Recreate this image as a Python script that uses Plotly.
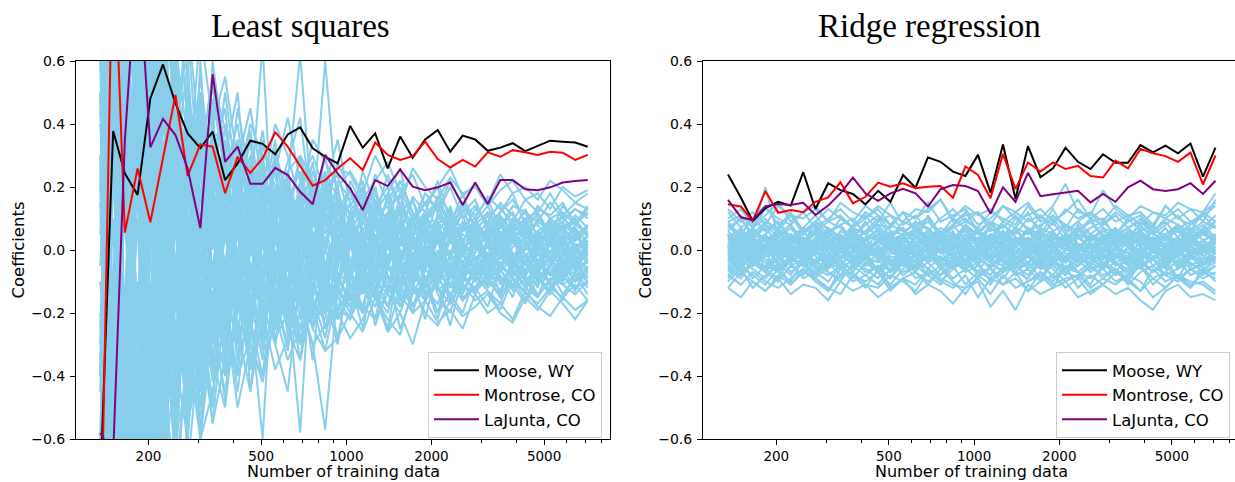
import plotly.graph_objects as go

# ---------------- data ----------------
n_train = [135, 150, 165, 183, 203, 225, 249, 275, 305, 337,
           373, 413, 458, 506, 561, 621, 687, 761, 842, 932,
           1032, 1143, 1265, 1401, 1550, 1716, 1900, 2104, 2329, 2578,
           2854, 3160, 3499, 3873, 4288, 4747, 5254, 5817, 6440, 7129]

x_tick_vals = [200, 500, 1000, 2000, 5000]
x_tick_text = ["200", "500", "1000", "2000", "5000"]
x_minor_vals = [300, 400, 600, 700, 800, 900, 3000, 4000, 6000, 7000, 8000]
y_tick_vals = [-0.6, -0.4, -0.2, 0.0, 0.2, 0.4, 0.6]

station_names = ["Moose, WY", "Montrose, CO", "LaJunta, CO"]
station_colors = ["black", "red", "purple"]

ls_moose = [-0.75, 0.378, 0.243, 0.175, 0.481, 0.589, 0.466, 0.370, 0.323, 0.376,
            0.222, 0.275, 0.347, 0.337, 0.304, 0.367, 0.389, 0.323, 0.296, 0.275,
            0.394, 0.325, 0.370, 0.259, 0.360, 0.293, 0.351, 0.381, 0.312, 0.363,
            0.351, 0.315, 0.325, 0.339, 0.314, 0.331, 0.347, 0.344, 0.341, 0.328]
ls_montrose = [-1.08, 1.06, 0.055, 0.259, 0.088, 0.29, 0.492, 0.235, 0.335, 0.328,
               0.18, 0.296, 0.245, 0.291, 0.374, 0.328, 0.265, 0.204, 0.222, 0.259,
               0.291, 0.254, 0.341, 0.302, 0.286, 0.298, 0.344, 0.289, 0.262, 0.286,
               0.265, 0.310, 0.296, 0.317, 0.310, 0.302, 0.312, 0.309, 0.286, 0.302]
ls_lajunta = [-0.58, -0.65, 0.35, 0.95, 0.326, 0.416, 0.365, 0.259, 0.069, 0.558,
              0.28, 0.328, 0.21, 0.21, 0.261, 0.238, 0.185, 0.145, 0.302, 0.243,
              0.196, 0.127, 0.222, 0.203, 0.256, 0.201, 0.190, 0.199, 0.214, 0.143,
              0.214, 0.146, 0.222, 0.222, 0.193, 0.190, 0.199, 0.214, 0.219, 0.222]

ridge_moose = [0.24, 0.166, 0.092, 0.133, 0.153, 0.141, 0.247, 0.13, 0.212, 0.19,
               0.178, 0.145, 0.188, 0.153, 0.238, 0.198, 0.294, 0.28, 0.249, 0.235,
               0.302, 0.182, 0.335, 0.162, 0.330, 0.231, 0.259, 0.325, 0.280, 0.257,
               0.304, 0.277, 0.277, 0.333, 0.310, 0.331, 0.307, 0.338, 0.233, 0.325]
ridge_montrose = [0.145, 0.138, 0.092, 0.187, 0.118, 0.127, 0.12, 0.153, 0.167, 0.215,
                  0.148, 0.169, 0.214, 0.201, 0.212, 0.196, 0.201, 0.203, 0.166, 0.265,
                  0.238, 0.164, 0.305, 0.193, 0.278, 0.249, 0.278, 0.257, 0.267, 0.235,
                  0.230, 0.284, 0.259, 0.321, 0.307, 0.298, 0.280, 0.309, 0.208, 0.300]
ridge_lajunta = [0.159, 0.104, 0.095, 0.138, 0.146, 0.143, 0.150, 0.111, 0.141, 0.18,
                 0.23, 0.18, 0.156, 0.18, 0.194, 0.18, 0.138, 0.193, 0.206, 0.203,
                 0.187, 0.116, 0.199, 0.153, 0.245, 0.171, 0.177, 0.182, 0.188, 0.151,
                 0.178, 0.153, 0.199, 0.220, 0.193, 0.187, 0.193, 0.212, 0.178, 0.220]

# other stations' coefficients (hundredths), least squares
ls_other_pct = [
    [-120, 85, -40, 62, -35, 48, -20, 30, -38, 15, 22, -18, 27, -10, 14, -20, 8, -15, 18, -6,
     12, -9, 5, -14, 10, -3, 8, -11, 6, -2, 9, -7, 3, -5, 10, -4, 2, -8, 5, 0],
    [140, -60, 95, -30, 70, 10, 45, -15, 38, 20, -5, 30, 12, 25, -8, 18, 2, 22, 10, 15,
     0, 12, 20, 3, 14, 8, -2, 11, 7, 13, 4, 9, 2, 10, 6, 8, 3, 11, 5, 7],
    [-90, 130, -75, 20, -60, 35, -45, 12, -30, -50, 10, -28, -15, -35, 5, -22, -12, 3, -25, -8,
     -18, 2, -14, -20, -3, -11, -16, 0, -12, -7, -14, -2, -9, -11, -4, -8, -13, -3, -6, -10],
    [60, -110, 150, 40, 90, -20, 65, 35, 50, 5, 40, 15, 35, -5, 28, 12, 30, 2, 22, 18,
     8, 25, 14, 20, 5, 17, 12, 22, 9, 15, 11, 16, 7, 14, 12, 9, 15, 10, 13, 11],
    [-150, 40, -130, -70, 15, -80, -5, -55, -30, 10, -40, -20, -5, -32, -25, -12, -30, -18, -8, -22,
     -15, -6, -24, -11, -18, -2, -16, -9, -14, -20, -8, -13, -17, -6, -12, -15, -9, -11, -14, -10],
    [100, 55, -95, 80, -50, 60, 10, -40, 25, 45, -20, 18, 35, -12, 20, 5, -10, 16, 25, -4,
     10, 0, 15, 6, -5, 12, 2, 9, -3, 7, 5, -2, 8, 3, 0, 6, 9, 1, 4, 2],
    [30, -140, 70, -90, 45, -25, -60, 20, -15, -40, 25, -35, 0, 12, -30, -10, 15, -22, -5, 8,
     -12, -20, 4, -8, -15, 6, -10, -2, -16, 1, -6, -11, 2, -8, -4, -12, 0, -7, -3, -9],
    [-70, 150, 20, 110, 55, -10, 85, 40, -5, 60, 30, 50, 5, 35, 15, 28, 42, 10, 20, 35,
     14, 22, 2, 18, 26, 8, 15, 20, 4, 12, 16, 6, 12, 18, 8, 11, 5, 14, 9, 13],
    [110, -80, -150, 30, -95, -40, 20, -70, -25, -55, -15, -40, -28, 5, -30, -45, -8, -25, -15, -30,
     -5, -20, -12, -25, -3, -18, -10, -22, -6, -15, -12, -4, -14, -9, -16, -6, -11, -8, -13, -5],
    [-40, 90, -120, 110, -20, 75, -55, 15, 48, -30, 35, -12, 8, 28, -20, 15, -8, 20, -14, 10,
     -6, 16, -10, 4, 12, -8, 6, -4, 14, 0, -5, 8, -3, 4, -7, 6, 2, -4, 7, -2],
    [150, 20, 60, -100, 85, -55, 40, -45, 10, 28, -35, 15, -25, 10, -18, 22, -12, 4, -20, 12,
     3, -14, 10, -6, 8, -12, 2, -9, 5, -4, -10, 3, -6, 7, -2, -8, 4, -5, 1, -3],
    [20, 150, -50, 95, 130, 45, 30, 70, 15, 48, 25, 40, 10, 33, 20, 8, 30, 22, 12, 28,
     18, 10, 24, 15, 20, 9, 18, 13, 22, 14, 10, 17, 13, 9, 16, 12, 18, 11, 15, 13],
    [-60, -150, 80, -120, -20, -75, -35, -60, -10, -42, -30, -5, -38, -22, -15, -30, -20, -8, -25, -18,
     -22, -10, -15, -26, -12, -18, -8, -20, -14, -11, -16, -13, -19, -9, -14, -17, -12, -15, -11, -16],
    [-100, 60, 120, -45, 30, 55, -30, 15, 25, -10, 5, -20, 15, 65, -10, 12, -5, 20, -8, 3,
     6, -10, 4, -3, 9, -7, 2, 5, -6, 1, 3, -4, 6, -2, 0, 4, -5, 2, -1, 3],
    [50, -130, 40, 75, -70, 20, -40, 35, -10, -25, 15, -5, -20, -60, 8, -15, -58, 5, -12, 10,
     -4, 6, -9, 2, -12, 4, -6, 8, -3, -8, 2, -6, 4, -1, -9, 3, -4, 0, -7, 1],
    [-30, 110, -140, 50, 60, -35, 25, -10, 45, 8, -12, 25, 6, 18, -5, 22, 62, 10, 60, 12,
     20, 4, 12, 18, 2, 10, 15, 6, 11, 3, 9, 14, 5, 8, 12, 4, 10, 7, 3, 8],
    [80, -20, 100, -130, 10, -65, 40, -20, -45, -15, -30, 10, -45, -8, -25, 5, -18, -30, -57, -12,
     -20, -8, -15, -3, -18, -10, -22, -5, -14, -9, -12, -18, -6, -13, -9, -15, -4, -11, -8, -14],
    [-140, -30, 150, 15, 100, -15, 50, 60, -20, 30, 45, 8, 20, -15, 30, 18, 5, 25, 12, 0,
     22, 14, 3, 12, 18, 0, 10, 15, 2, 9, 6, 11, 0, 8, 5, 12, 2, 7, 10, 4],
    [5, 70, -60, -110, 40, -90, 15, -55, 20, -35, -50, -15, 12, -28, 0, -22, -8, -35, 2, -20,
     -10, -25, -5, 6, -16, -12, 0, -14, -20, -6, -2, -10, -14, -4, -7, 0, -12, -9, -3, -11],
    [150, -40, 85, 120, 25, 95, 60, 20, 70, 40, 55, 28, 45, 20, 40, 30, 15, 35, 28, 20,
     25, 18, 30, 22, 14, 26, 20, 16, 23, 18, 20, 14, 19, 22, 16, 18, 13, 20, 17, 19],
    [-20, -90, -60, 40, -140, -40, -85, -25, -60, -45, -20, -50, -30, -42, -20, -35, -25, -18, -32, -28,
     -20, -26, -15, -22, -27, -12, -20, -24, -16, -21, -18, -14, -20, -23, -15, -19, -13, -17, -22, -16],
    [90, -150, 30, 50, -40, 80, 20, 45, 10, -20, 20, 35, -10, 15, 25, -5, 18, 10, 30, 6,
     15, 8, 20, 0, 12, 16, 5, 10, 7, 14, 8, 3, 10, 6, 13, 4, 9, 5, 11, 7],
    [-45, 120, 10, -60, -85, 25, -50, -10, -40, 12, -25, -40, 8, -18, -30, -2, -15, -25, -10, -28,
     -8, -18, -22, -4, -14, -20, -6, -12, -17, -9, -5, -12, -8, -15, -3, -10, -7, -14, -9, -6],
    [40, -50, -80, 140, -30, 10, -35, 40, -25, 20, -8, 25, -22, 30, 5, -12, 20, -4, 8, 15,
     4, -6, 10, 14, -2, 7, 12, -5, 9, 2, -1, 6, 9, -3, 5, 0, 7, 4, -2, 5],
    [-150, 35, 55, -40, 20, -50, 30, -35, 5, -15, 12, -30, 20, -20, 10, -25, 0, 14, -18, -5,
     9, -14, -2, 8, -10, 3, -12, 6, -7, -1, -8, 2, -5, -9, 3, -6, -2, -10, 1, -4],
    [120, 40, -70, 60, 80, 50, 35, 75, 30, 55, 38, 20, 40, 30, 25, 42, 22, 30, 18, 26,
     24, 16, 22, 28, 18, 24, 14, 20, 26, 17, 21, 15, 24, 18, 20, 16, 22, 19, 15, 18],
    [-80, 10, -110, -50, -75, 10, -60, -40, -15, -55, -35, -25, -45, -20, -38, -28, -15, -30, -24, -20,
     -28, -22, -12, -26, -20, -30, -16, -23, -19, -25, -14, -20, -17, -22, -13, -18, -21, -15, -19, -16],
    [130, -120, 140, -140, 75, 30, -50, 25, -35, 20, -25, 10, -12, 20, -20, 3, -15, 10, 0, -12,
     8, -4, -15, 10, 0, -8, 5, -3, 10, -6, 3, -2, 6, -4, 2, -6, 4, 0, -3, 2],
    [-110, 100, 45, -20, 55, 70, -20, 55, 15, 30, 10, 45, 22, 5, 32, 15, 25, 8, 18, 24,
     10, 20, 6, 16, 22, 12, 8, 17, 12, 6, 13, 9, 15, 11, 7, 14, 10, 12, 8, 14],
    [75, -60, -20, 90, -45, -10, -70, 5, -55, -20, -48, -10, -30, -40, -12, -25, -35, -5, -20, -15,
     -22, -12, -18, -8, -25, -14, -10, -20, -5, -16, -12, -8, -15, -11, -17, -9, -14, -6, -12, -10],
    [85, -45, 110, -70, 40, -25, 55, -30, 20, 10, -15, 25, 5, -10, 18, -6, 12, -3, 15, 4,
     8, -4, 10, 2, -6, 9, 3, 6, -2, 5, 2, 7, -1, 4, 6, 0, 3, 8, 1, 4],
    [-130, 70, -20, 95, -55, 30, -10, 45, -40, -5, 20, -25, -8, 15, -20, 8, -18, 2, -10, -15,
     -6, 4, -12, -2, 6, -9, 0, -7, -12, 3, -4, -8, 1, -6, -2, -9, -5, 0, -7, -3],
    [20, -95, 60, -25, -80, 65, -15, -35, 30, -20, 12, 0, -22, 20, -5, 10, -15, 8, 4, -10,
     10, -5, 0, 12, -8, 2, -6, 9, -3, 0, 6, -4, 2, -6, 5, -1, -3, 4, -5, 1],
    [-60, 125, -100, 35, 25, -40, 70, -5, 35, 25, 5, 18, 30, 0, 12, 25, -4, 15, 8, 20,
     2, 10, 16, 6, 12, -2, 9, 14, 5, 8, 10, 3, 7, 12, 4, 9, 6, 2, 8, 5],
    [110, -20, -90, 60, -110, 15, -25, -50, 5, -30, -20, 8, -35, -12, 10, -28, -5, -18, -22, 0,
     -12, -4, -16, 2, -10, -14, -6, 3, -11, -8, -2, -9, -6, -12, -1, -7, -10, -4, -8, -6],
    [-25, 40, -140, 120, -60, 90, -30, 25, -45, 38, -20, 15, -10, 22, -15, 5, 18, -9, 12, -2,
     7, -8, 13, -5, 4, 10, -6, 3, -9, 8, 0, 5, -3, 7, -2, 3, 6, -4, 2, 0],
    [150, -70, 25, -50, 110, -70, 35, -15, -40, 15, -28, 18, -5, -20, 12, -15, 6, -12, 20, -8,
     -10, 5, -7, 11, -12, 2, 8, -6, 0, -11, 4, -6, -2, 5, -8, 1, -4, 3, -6, -1],
    [45, -30, 80, -60, 20, 100, -15, 50, 5, 40, 12, 30, -2, 25, 8, 20, 10, 28, 0, 16,
     12, 2, 18, 8, 14, 4, 11, 16, 9, 3, 8, 12, 5, 9, 3, 10, 7, 11, 4, 8],
    [-10, -60, 35, -150, 50, -45, -70, 10, -50, -15, -35, -5, -22, -40, -8, -20, -30, -2, -18, -12,
     -20, -6, -15, -10, -3, -18, -12, -8, -16, -4, -10, -6, -13, -3, -9, -11, -5, -8, -12, -7],
    [-90, 55, 90, -30, -45, 40, 15, -25, 50, -10, 30, -12, 22, 10, -5, 25, 0, 18, -8, 12,
     14, -2, 7, 16, 1, 10, -4, 12, 6, 0, 5, 8, 1, 6, 9, 2, 4, 7, 0, 5],
    [65, -110, -35, 75, -20, -60, 45, -40, 0, -38, 8, -30, -12, 18, -25, 0, -22, -6, -15, 5,
     -16, -2, -10, -14, 4, -8, -12, -1, -6, -13, -5, -9, -2, -7, -11, -3, -8, -1, -6, -4],
    [-150, 110, 15, -60, 90, -80, 20, 30, -20, 35, -15, 28, -25, 5, 15, -18, 10, -6, 22, -12,
     3, -10, 8, -4, 14, -7, 1, -12, 7, -2, -6, 4, -3, 7, -5, 2, -1, 5, -4, 3],
    [100, 40, -60, 20, -25, 85, 40, -20, 60, 0, 35, -5, 18, 28, 2, 20, 12, -2, 25, 6,
     4, 15, 9, 0, 18, 5, 12, 2, 10, 7, 7, 3, 9, 5, 10, 2, 6, 9, 4, 7],
    [-40, 90, -110, -20, 70, -30, -55, 25, -60, -5, -28, -40, 5, -20, -15, -32, -2, -24, -10, -18,
     -14, -20, 0, -12, -18, -6, -15, -9, -4, -12, -8, -3, -10, -6, -12, -4, -7, -10, -2, -6],
    [140, -140, -40, 50, -15, -20, 60, -45, 28, -12, 20, -20, 12, -8, 30, -14, 6, 14, -10, 5,
     -8, 9, 3, -6, 8, -3, 11, -5, 4, -9, 6, -2, 4, -5, 1, 6, -3, 2, 5, -1],
    [-70, 20, 130, -80, 35, 50, -40, 5, -25, 45, -10, 5, -30, 15, -8, 20, -18, 0, 10, -14,
     6, -10, -4, 9, -13, 4, -5, 6, -9, 2, -3, 1, -7, 3, -4, -8, 2, -5, 0, -2],
    [30, -80, 50, 90, -35, 45, 25, 60, -10, 35, 40, 5, 28, 15, 35, 0, 22, 12, 18, 8,
     20, 6, 14, 10, 22, 12, 4, 15, 8, 18, 6, 11, 14, 7, 10, 12, 5, 9, 13, 10],
    [50, -130, -50, -10, -65, -85, 10, -45, -20, -48, -5, -35, -20, -10, -28, -12, -35, -15, -5, -22,
     -12, -18, -4, -14, -20, -8, -13, -17, -6, -11, -14, -7, -10, -12, -6, -9, -13, -5, -10, -8],
    [-110, -10, 70, -45, 80, -55, 30, 40, -30, 5, 25, -10, 15, -18, 8, 22, -8, 10, 2, 18,
     -4, 6, 12, -3, 8, 2, -7, 9, 4, -2, 3, 6, 0, 4, 8, -2, 5, 1, 3, 6],
    [95, 60, -125, 100, -5, -35, -15, -50, 35, -25, 5, -20, 10, -30, -2, -12, 15, -20, -5, 2,
     -15, 0, -8, 4, -12, -5, 6, -10, -2, -6, -8, -1, -4, -9, 2, -5, -3, -7, 0, -4],
    [-35, 145, -60, 10, -100, 25, 10, -55, 45, -40, 15, -8, 28, -25, 3, 12, -12, 6, -18, 14,
     -9, 2, -5, 8, -3, 6, -11, 4, -1, 9, -3, 2, -6, 1, 4, -4, 3, -2, 6, -1],
    [120, -30, 45, -120, 60, -5, 75, -10, 40, 15, -8, 35, 10, 22, -10, 18, 8, -5, 15, 2,
     10, -2, 14, 5, 9, -4, 12, 3, 7, 11, 1, 5, 8, 2, 6, 4, 9, 3, 7, 2],
    [-120, 50, -30, 80, -40, -70, 30, -60, 10, -20, -40, 12, -15, -28, 8, -10, -25, 0, -12, -20,
     2, -14, -8, -18, -3, -10, -2, -13, -9, -5, -7, -2, -11, -4, -8, -1, -6, -10, -3, -7],
    [-40, 60, 110, -50, 30, 75, 50, 15, 55, 20, 50, 20, 15, 38, 10, 25, 30, 15, 5, 22,
     16, 20, 10, 24, 14, 8, 18, 12, 20, 10, 14, 8, 12, 16, 9, 13, 11, 15, 8, 12],
    [15, -140, 40, -95, -50, 20, -75, -30, -60, -25, -45, -15, -38, -8, -28, -20, -5, -25, -32, -12,
     -18, -10, -22, -14, -6, -20, -16, -11, -24, -8, -13, -9, -15, -11, -8, -14, -10, -16, -7, -12],
    [-5, 80, -70, 130, -90, -10, 35, -20, -60, 10, -25, 20, -10, 6, -20, 10, -8, 15, -4, -12,
     5, -7, 2, 10, -5, -2, 7, -8, 3, -4, 2, -3, 5, -1, -4, 3, -2, 1, -5, 2],
    [-150, 30, -20, 70, 110, 10, 60, -20, 30, 52, 22, 8, 38, 12, 25, -3, 18, 10, 24, 4,
     8, 18, 4, 12, 6, 16, 2, 10, 13, 6, 9, 4, 11, 6, 8, 3, 10, 6, 9, 5],
    [130, -50, 70, -30, -20, -95, 20, -55, -35, 8, -15, -45, -10, -30, -22, -5, -28, -12, -20, -8,
     -16, -6, -12, -18, -9, -4, -15, -10, -7, -14, -6, -11, -4, -9, -13, -5, -8, -3, -10, -6],
    [70, -100, 20, 35, -60, 50, -5, 30, -20, 35, 10, -8, 25, 5, 18, -2, 22, 8, 12, -3,
     9, 13, 0, 11, 6, 16, 3, 8, 12, 2, 6, 2, 9, 4, 7, 1, 8, 5, 3, 6],
    [-85, 25, 90, -140, 15, -25, -30, -10, -55, -5, -20, -38, 2, -20, -10, -25, 0, -15, -28, -8,
     -3, -12, -18, -6, -10, -2, -14, -7, -11, -16, -9, -4, -7, -2, -10, -6, -3, -8, -5, -9],
]

# other stations' coefficients (hundredths), ridge regression
ridge_other_pct = [
    [2, -3, 1, 4, -2, 0, 3, -1, -4, 2, 1, -2, 3, 0, -3, 4, 1, -1, 2, -4,
     0, 3, -2, 1, 4, -3, 0, 2, -1, -2, 3, 1, -4, 0, 2, -1, 3, -2, 1, 0],
    [5, 1, 4, 7, 2, 3, 6, 1, 4, 0, 5, 3, 7, 2, 4, 1, 6, 3, 0, 5,
     2, 7, 4, 1, 3, 6, 2, 5, 0, 4, 3, 7, 1, 5, 2, 4, 6, 1, 3, 5],
    [-1, -5, -2, -6, -3, 0, -4, -7, -2, -5, -1, -4, -6, -2, -3, -7, -1, -5, -3, -6,
     -2, 0, -4, -5, -1, -6, -3, -2, -7, -4, -1, -5, -3, -6, -2, -4, 0, -5, -3, -1],
    [9, 4, 7, 10, 5, 8, 3, 6, 9, 7, 4, 8, 11, 6, 5, 9, 7, 3, 8, 10,
     6, 4, 9, 7, 5, 11, 6, 8, 4, 7, 9, 5, 10, 6, 8, 3, 7, 9, 5, 8],
    [-8, -4, -9, -5, -7, -10, -3, -6, -8, -5, -9, -4, -7, -11, -6, -3, -8, -5, -9, -6,
     -4, -10, -7, -5, -8, -3, -9, -6, -7, -11, -4, -8, -6, -5, -9, -7, -3, -8, -6, -10],
    [3, 0, -2, 4, 1, 5, -1, 2, 6, 0, 3, -1, 4, 2, -2, 5, 1, 3, 0, 4,
     -1, 2, 6, 1, -2, 3, 0, 5, 2, -1, 4, 1, 3, -2, 2, 5, 0, 3, 1, -1],
    [-3, 1, -2, 2, -4, 0, -1, -5, 1, -3, 2, -2, 0, -4, 1, -1, -3, 3, -2, 0,
     -5, 1, -1, -3, 2, -4, 0, -2, 1, -3, -1, 2, -4, 0, -2, 1, -5, -1, 0, -3],
    [1, 6, 3, 8, 4, 2, 7, 5, 1, 6, 4, 9, 3, 5, 2, 7, 4, 6, 1, 8,
     5, 3, 6, 2, 7, 4, 5, 1, 8, 3, 6, 4, 2, 7, 5, 3, 8, 4, 6, 2],
    [-6, -2, -5, -1, -7, -3, -4, -8, -2, -6, -3, -5, -1, -7, -4, -2, -6, -8, -3, -5,
     -1, -4, -7, -2, -6, -3, -5, -8, -2, -4, -6, -1, -5, -3, -7, -4, -2, -6, -5, -3],
    [12, 7, 10, 14, 8, 11, 6, 9, 13, 10, 7, 12, 9, 15, 8, 11, 6, 10, 13, 9,
     7, 12, 10, 8, 14, 9, 11, 7, 13, 10, 8, 12, 9, 11, 7, 14, 10, 8, 12, 15],
    [-12, -7, -10, -13, -8, -11, -6, -9, -12, -14, -8, -10, -7, -13, -9, -11, -6, -10, -12, -8,
     -15, -9, -11, -7, -13, -10, -8, -12, -9, -14, -11, -7, -10, -13, -9, -12, -8, -11, -10, -13],
    [0, 4, 2, -1, 5, 3, 1, 6, 2, 4, 0, 3, 5, 1, 4, -1, 3, 2, 6, 0,
     4, 2, 5, 1, 3, -1, 4, 2, 0, 5, 3, 1, 4, 2, 6, 0, 3, 5, 1, 4],
    [-4, 0, -3, 1, -5, -2, -1, -4, -6, 0, -2, -3, 1, -5, -1, -4, -2, 0, -6, -3,
     -1, -4, 1, -2, -5, -3, 0, -1, -4, -2, -6, -1, -3, 1, -5, -2, -4, 0, -3, -1],
    [8, 3, 6, 20, 4, 7, 2, 9, 5, 8, 3, 6, 10, 4, 7, 2, 11, 5, 8, 3,
     6, 9, 4, 7, 12, 5, 3, 8, 6, 10, 4, 7, 3, 9, 6, 5, 8, 2, 7, 11],
    [13, 9, 12, 8, 14, 11, 10, 13, 9, 15, 12, 10, 14, 11, 9, 13, 12, 16, 10, 14,
     11, 13, 9, 12, 15, 10, 14, 21, 12, 11, 19, 13, 10, 14, 12, 11, 15, 13, 12, 18],
    [-12, -15, -10, -13, -9, -14, -11, -12, -16, -10, -13, -11, -15, -12, -9, -14, -11, -13, -17, -12,
     -10, -18, -13, -19, -11, -14, -12, -10, -15, -13, -11, -14, -12, -16, -19, -13, -11, -15, -14, -16],
    [5, -4, 2, -6, 7, -1, 4, -5, 3, -3, 6, -2, 1, -7, 5, 0, -4, 3, -6, 2,
     7, -3, 0, -5, 4, -2, 6, -1, -4, 3, -6, 5, 1, -3, 4, -5, 2, 6, -2, 0],
    [1, 5, 3, 0, 6, 2, 4, -1, 5, 3, 7, 1, 2, 6, 0, 4, 3, 5, 1, 7,
     3, 0, 5, 2, 6, 3, 1, 4, 7, 2, 0, 5, 3, 6, 1, 4, 2, 7, 3, 5],
    [-5, -1, -4, -7, -2, -5, -3, 0, -6, -2, -4, -1, -7, -3, -5, -2, 0, -4, -6, -1,
     -3, -5, -2, -7, -4, 0, -3, -6, -1, -5, -2, -4, -7, -3, 0, -5, -2, -6, -4, -1],
    [6, 10, 5, 9, 7, 12, 6, 8, 4, 10, 7, 5, 9, 11, 6, 8, 10, 4, 7, 9,
     12, 6, 8, 5, 10, 7, 13, 6, 9, 5, 8, 11, 7, 10, 6, 9, 4, 8, 11, 7],
    [-9, -5, -8, -11, -6, -4, -9, -7, -10, -5, -8, -12, -6, -9, -4, -7, -10, -8, -5, -11,
     -7, -9, -6, -4, -10, -8, -12, -5, -7, -9, -6, -10, -8, -5, -11, -7, -9, -12, -6, -8],
    [-1, 3, 0, 2, -2, 4, 1, -1, 3, 0, 5, 2, -1, 1, 4, -2, 2, 0, 3, 1,
     -1, 4, 2, 0, -2, 3, 1, 5, 0, 2, -1, 3, 1, -2, 4, 0, 2, 3, -1, 1],
    [1, -2, -4, 0, -1, -3, 2, -2, -5, 0, -3, 1, -1, -4, 0, -2, 2, -3, -1, -5,
     1, -2, 0, -3, -1, 2, -4, -2, 0, -1, -3, 1, -5, -2, 0, -3, -1, 2, -4, -2],
    [-8, -11, -7, -10, -12, -9, -6, -10, -13, -8, -7, -11, -12, -8, -10, -13, -7, -9, -11, -12,
     -9, -14, -8, -12, -10, -7, -11, -9, -8, -12, -9, -11, -8, -10, -15, -12, -8, -10, -11, -14],
    [4, 2, 7, 3, 5, 8, 2, 6, 4, 1, 7, 5, 3, 8, 6, 2, 4, 7, 5, 1,
     6, 3, 8, 4, 2, 7, 5, 3, 6, 9, 4, 2, 6, 5, 3, 7, 1, 5, 8, 4],
    [-3, -7, -4, -6, -9, -2, -5, -8, -4, -6, -3, -7, -5, -9, -2, -6, -4, -8, -5, -3,
     -7, -6, -9, -4, -2, -6, -5, -8, -3, -7, -4, -6, -9, -5, -3, -8, -6, -4, -7, -5],
    [0, 2, -1, 1, 3, -2, 0, 4, -1, 2, -3, 1, 0, 3, -2, 2, -1, 4, 0, -3,
     1, 2, -2, 3, 0, -1, 2, -3, 4, 1, -2, 0, 3, -1, 2, -2, 1, 4, -1, 0],
    [9, 11, 7, 13, 10, 8, 12, 14, 9, 11, 7, 10, 13, 8, 12, 10, 15, 9, 11, 13,
     8, 10, 14, 12, 9, 11, 8, 13, 10, 12, 9, 14, 11, 8, 12, 10, 13, 9, 11, 14],
    [3, -1, 2, 5, 0, -3, 4, 1, -2, 3, 0, 4, -1, 2, 5, -2, 1, 3, -3, 2,
     4, 0, -2, 3, 1, -1, 5, 2, -3, 1, 3, -2, 0, 4, 1, -1, 2, 5, 0, 3],
    [-2, 1, -4, -1, 2, -3, 0, -5, 1, -2, -4, 0, -2, 1, -5, -1, -3, 2, -2, -4,
     0, -3, -1, -5, 2, -2, -4, 0, -1, -3, 1, -4, -2, 0, -3, -5, -1, 1, -2, -4],
    [6, 2, 4, 1, 7, 3, 5, 8, 2, 4, 6, 3, 1, 5, 7, 2, 4, 6, 3, 8,
     1, 5, 3, 7, 2, 4, 6, 1, 5, 3, 7, 2, 4, 6, 3, 5, 1, 4, 7, 3],
    [-5, -8, -3, -6, -2, -7, -4, -9, -5, -3, -7, -2, -6, -4, -8, -5, -1, -6, -3, -7,
     -5, -8, -2, -6, -4, -9, -3, -7, -5, -2, -6, -4, -8, -3, -7, -5, -9, -2, -6, -4],
    [1, 3, -2, 0, 2, -1, 4, 0, -3, 1, 3, -2, 0, 2, -4, 1, 3, -1, 0, 2,
     -2, 1, 3, -1, 0, 4, -3, 2, 0, -1, 2, 0, -2, 3, -1, 1, 4, -2, 0, 2],
    [4, 7, 2, 5, 9, 3, 6, 1, 7, 4, 2, 6, 8, 3, 5, 9, 2, 6, 4, 7,
     3, 8, 5, 2, 6, 4, 9, 3, 7, 5, 2, 6, 4, 8, 3, 5, 7, 2, 6, 9],
    [-1, -4, 0, -3, -6, -2, 1, -4, -1, -5, 0, -3, -6, -1, -2, -5, 1, -3, -4, 0,
     -2, -6, -1, -3, 0, -5, -2, -4, 1, -3, -5, -1, -3, -6, 0, -2, -4, -1, -5, -2],
    [2, 0, 5, 3, -1, 4, 2, 6, 0, 3, 5, 1, -1, 4, 2, 6, 3, 0, 5, 2,
     4, 1, 6, 3, -1, 2, 5, 3, 1, 4, 0, 3, 5, 1, 4, 2, -1, 3, 6, 2],
    [-7, -3, -6, -9, -4, -8, -2, -5, -7, -10, -4, -6, -9, -3, -7, -5, -8, -11, -4, -6,
     -9, -5, -3, -8, -6, -10, -4, -7, -9, -5, -8, -6, -10, -4, -7, -3, -9, -6, -8, -5],
    [0, -2, 3, 1, -1, 2, -3, 0, 4, -1, 2, 0, -3, 3, 1, -2, 0, 4, -1, 1,
     -3, 2, 0, -1, 3, 1, -2, 4, 0, -1, 2, -3, 1, 0, 3, -2, 1, -1, 2, 0],
    [8, 5, 10, 6, 9, 4, 7, 11, 6, 8, 10, 5, 8, 7, 12, 6, 9, 5, 10, 7,
     5, 9, 7, 11, 6, 8, 10, 5, 9, 12, 7, 5, 9, 11, 6, 10, 8, 6, 12, 9],
    [-3, 0, -5, -2, 1, -4, -1, -6, -3, 0, -5, -2, -4, 0, -3, -6, -1, -4, -2, -5,
     0, -3, -5, -1, -4, -2, 0, -6, -3, -1, -4, -2, -5, -1, -3, 0, -6, -2, -4, -3],
    [5, 2, 0, 3, 6, 1, 4, -1, 3, 5, 1, 4, 6, 0, 3, 5, 2, -1, 4, 6,
     2, 5, 0, 3, 6, 1, 4, 2, 5, 0, 3, 6, 1, 4, 2, 5, 0, 3, 6, 2],
    [-10, -6, -12, -8, -5, -11, -7, -9, -13, -6, -10, -8, -5, -12, -9, -7, -11, -6, -10, -14,
     -8, -6, -11, -9, -13, -7, -10, -5, -12, -8, -11, -7, -9, -13, -6, -10, -8, -12, -7, -9],
    [1, -3, 2, -1, 4, 0, -2, 3, -4, 1, -1, 2, -3, 1, 0, -4, 3, -1, 2, -2,
     1, -3, 4, 0, -2, 1, -1, 3, -4, 2, 0, -2, 3, -1, 1, -3, 2, 0, -1, 3],
    [7, 10, 4, 8, 6, 11, 5, 9, 7, 3, 8, 11, 6, 4, 9, 7, 10, 5, 8, 12,
     6, 9, 4, 10, 7, 5, 11, 8, 6, 9, 10, 4, 7, 9, 5, 8, 11, 6, 9, 7],
    [-2, -6, -1, -4, -7, -3, -5, 0, -4, -8, -2, -5, -3, -7, -1, -4, -6, -2, -5, -3,
     -7, -1, -4, -6, -2, -5, -8, -3, -1, -6, -4, -7, -2, -5, -3, -6, -1, -4, -7, -2],
    [3, 6, 1, 4, 2, 5, 0, 3, 6, 2, 4, 1, 5, 3, 0, 4, 6, 2, 3, 5,
     1, 4, 2, 6, 3, 0, 5, 2, 4, 1, 5, 3, 6, 2, 4, 1, 3, 5, 0, 4],
    [-4, -1, -3, -6, 0, -2, -5, -3, -1, -4, -6, -2, 0, -3, -5, -1, -4, -2, -6, 0,
     -3, -5, -1, -4, -2, -6, 0, -3, -5, -2, -1, -4, -6, -2, -3, 0, -5, -1, -4, -3],
    [0, 3, 1, -1, 2, 4, 0, 2, -2, 3, 1, -1, 3, 0, 2, -2, 4, 1, 0, 3,
     -1, 2, 0, 4, 1, -2, 3, 0, 2, -1, 3, 1, -1, 2, 0, 4, -2, 1, 3, 0],
    [10, 13, 8, 11, 15, 9, 12, 7, 10, 13, 9, 14, 11, 8, 12, 10, 13, 16, 9, 11,
     12, 8, 14, 10, 11, 13, 9, 12, 16, 10, 13, 9, 11, 12, 8, 14, 10, 13, 9, 16],
    [-6, -9, -4, -7, -10, -5, -8, -3, -7, -9, -5, -8, -11, -6, -4, -9, -7, -10, -6, -3,
     -8, -11, -5, -7, -9, -4, -6, -10, -8, -5, -9, -6, -11, -7, -5, -8, -10, -6, -9, -7],
    [2, -1, 4, 1, 3, -2, 2, 5, 1, -1, 3, 1, -2, 4, 2, 0, 5, 1, 3, -1,
     2, 4, 1, -1, 3, 5, 0, 2, 4, 1, -1, 3, 2, 5, 0, 2, 4, -1, 3, 1],
    [-1, 2, -3, 0, -2, 1, -4, -1, 2, -3, 0, -2, 1, -4, -1, 2, -3, 0, -2, 1,
     -4, -1, 2, -3, 0, -2, 1, -4, -1, 2, -3, 0, -1, -4, 1, -2, 0, -3, 2, -1],
    [4, 1, 6, 3, 0, 5, 2, 7, 4, 1, 6, 3, 5, 0, 4, 7, 2, 5, 1, 3,
     6, 2, 4, 7, 1, 5, 3, 0, 6, 4, 2, 5, 7, 3, 1, 4, 6, 2, 5, 3],
]

# ---------------- figure ----------------
W, H = 1235, 482
SKY = "#87CEEB"
SANS = "DejaVu Sans"

fig = go.Figure()

panels = [
    ("x", "y", ls_other_pct, [ls_moose, ls_montrose, ls_lajunta], "legend"),
    ("x2", "y2", ridge_other_pct, [ridge_moose, ridge_montrose, ridge_lajunta], "legend2"),
]
for xa, ya, others, highlights, leg in panels:
    for series in others:
        fig.add_trace(go.Scatter(
            x=n_train, y=[v / 100 for v in series], mode="lines",
            line=dict(color=SKY, width=2), xaxis=xa, yaxis=ya,
            showlegend=False, hoverinfo="skip"))
    for name, color, vals in zip(station_names, station_colors, highlights):
        fig.add_trace(go.Scatter(
            x=n_train, y=vals, mode="lines", name=name,
            line=dict(color=color, width=2), xaxis=xa, yaxis=ya,
            legend=leg, showlegend=True))

ydom = [1 - 439 / H, 1 - 61 / H]


def xaxis_style(domain, rng, anchor, mirror):
    return dict(
        domain=domain, type="log", range=rng, anchor=anchor,
        tickmode="array", tickvals=x_tick_vals, ticktext=x_tick_text,
        ticks="outside", ticklen=5, tickwidth=1, tickcolor="black",
        ticklabelstandoff=0,
        minor=dict(tickmode="array", tickvals=x_minor_vals, ticks="outside",
                   ticklen=3, tickwidth=1, tickcolor="black", showgrid=False),
        showline=True, linecolor="black", linewidth=1, mirror=mirror,
        showgrid=False, zeroline=False, automargin=False,
        tickfont=dict(family=SANS, size=13.5, color="black"),
    )


def yaxis_style(anchor, mirror):
    return dict(
        domain=ydom, range=[-0.6, 0.6], anchor=anchor,
        tickmode="array", tickvals=y_tick_vals, tickformat=".1f",
        ticks="outside", ticklen=5, tickwidth=1, tickcolor="black",
        ticklabelstandoff=2,
        showline=True, linecolor="black", linewidth=1, mirror=mirror,
        showgrid=False, zeroline=False, automargin=False,
        tickfont=dict(family=SANS, size=14, color="black"),
        title=dict(text="Coefficients", standoff=2,
                   font=dict(family=SANS, size=16.5, color="black")),
    )


legend_common = dict(
    xanchor="left", yanchor="top", y=1 - 352 / H,
    bgcolor="rgba(255,255,255,0.85)", bordercolor="#cccccc", borderwidth=1,
    font=dict(family=SANS, size=16.5, color="black"),
    tracegroupgap=0, itemwidth=45,
)

xtitle_font = dict(family=SANS, size=16, color="black")
title_font = dict(family="Liberation Serif", size=33, color="black")

fig.update_layout(
    width=W, height=H,
    margin=dict(l=0, r=0, t=0, b=0),
    paper_bgcolor="white", plot_bgcolor="white",
    xaxis=xaxis_style([76 / W, 610 / W], [2.0448, 3.9318], "y", True),
    yaxis=yaxis_style("x", True),
    xaxis2=xaxis_style([703 / W, 1.0], [2.042, 3.922], "y2", True),
    yaxis2=yaxis_style("x2", False),
    legend=dict(x=428 / W, **legend_common),
    legend2=dict(x=1056 / W, **legend_common),
    annotations=[
        dict(text="Least squares", x=300 / W, y=1 - 26 / H, xref="paper", yref="paper",
             xanchor="center", yanchor="middle", showarrow=False, font=title_font),
        dict(text="Ridge regression", x=929 / W, y=1 - 26 / H, xref="paper", yref="paper",
             xanchor="center", yanchor="middle", showarrow=False, font=title_font),
        dict(text="Number of training data", x=343 / W, y=0, xref="paper", yref="paper",
             xanchor="center", yanchor="bottom", showarrow=False, font=xtitle_font,
             borderpad=0),
        dict(text="Number of training data", x=971 / W, y=0, xref="paper", yref="paper",
             xanchor="center", yanchor="bottom", showarrow=False, font=xtitle_font,
             borderpad=0),
    ],
)

fig.write_html("out.html")
